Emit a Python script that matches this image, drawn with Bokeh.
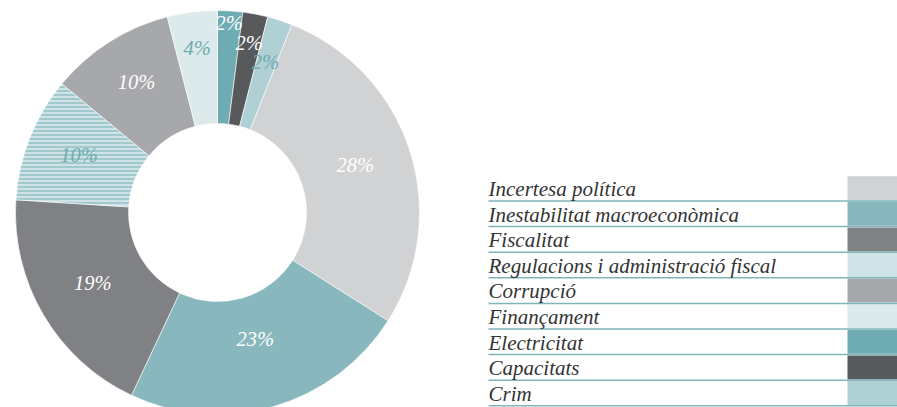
from bokeh.plotting import figure
from bokeh.models import Range1d, ColumnDataSource
from bokeh.core.properties import value
from bokeh.embed import file_html
from bokeh.resources import INLINE
import math

# ---- data ----
legend_labels = ["Incertesa política", "Inestabilitat macroeconòmica", "Fiscalitat",
                 "Regulacions i administració fiscal", "Corrupció", "Finançament",
                 "Electricitat", "Capacitats", "Crim"]
legend_colors = ["#D1D2D4", "#88B8BE", "#808184", "#CFE3E6", "#A7A8AB", "#DDEAEC",
                 "#6FABB2", "#58595B", "#AFD0D4"]

# clockwise from 12 o'clock
slice_names = ["Electricitat", "Capacitats", "Crim", "Incertesa política",
               "Inestabilitat macroeconòmica", "Fiscalitat",
               "Regulacions i administració fiscal", "Corrupció", "Finançament"]
slice_values = [2, 2, 2, 28, 23, 19, 10, 10, 4]
slice_labels = ["2%", "2%", "2%", "28%", "23%", "19%", "10%", "10%", "4%"]
label_colors = ["white", "white", "#6FABB2", "white", "white", "white", "#6FABB2", "white", "#6FABB2"]
label_radius = [187, 169, 155, 145, 135, 145, 149, 151, 163]

W, H = 897, 407
p = figure(width=W, height=H, output_backend="svg", toolbar_location=None,
           x_range=Range1d(0, W), y_range=Range1d(0, H), min_border=0)
p.axis.visible = False
p.grid.visible = False
p.outline_line_color = None

cx, cy = 217, H - 212
r_in, r_out = 89, 202
total = sum(slice_values)
cmap = dict(zip(legend_labels, legend_colors))

cum = 0.0
starts, ends, cols, lx, ly = [], [], [], [], []
for i, v in enumerate(slice_values):
    a0 = cum / total
    a1 = (cum + v) / total
    cum += v
    starts.append(math.pi / 2 - a1 * 2 * math.pi)
    ends.append(math.pi / 2 - a0 * 2 * math.pi)
    cols.append(cmap[slice_names[i]])
    mid = (a0 + a1) / 2
    ang = math.pi / 2 - mid * 2 * math.pi
    lx.append(cx + label_radius[i] * math.cos(ang))
    ly.append(cy + label_radius[i] * math.sin(ang) + 3)

src = ColumnDataSource(dict(s=starts, e=ends, c=cols,
                            h=["-" if n.startswith("Regulacions") else " " for n in slice_names]))
p.annular_wedge(x=cx, y=cy, inner_radius=r_in, outer_radius=r_out,
                start_angle="s", end_angle="e", fill_color="c", line_color="white",
                line_width=0.6, hatch_pattern="h", hatch_color="#7FB5BB",
                hatch_scale=4, hatch_weight=1.2, source=src)

p.text(x=lx, y=ly, text=slice_labels, text_color=label_colors,
       text_font=value("Liberation Serif"), text_font_style="italic",
       text_font_size="20.5px", text_align="center", text_baseline="middle")

# ---- legend ----
step = 25.6
first_line = H - 200.5
n = len(legend_labels)
line_y = [first_line - i * step for i in range(n)]
p.quad(left=[847] * n, right=[W + 10] * n,
       bottom=[y + 0.8 for y in line_y], top=[y + step - 0.8 for y in line_y],
       fill_color=legend_colors, line_color=None)
p.segment(x0=[488] * n, x1=[W] * n, y0=line_y, y1=line_y,
          line_color="#7FB5BB", line_width=1.5)
p.text(x=[488] * n, y=[y + 12 for y in line_y], text=legend_labels,
       text_color="#333333", text_font=value("Liberation Serif"),
       text_font_style="italic", text_font_size="21px",
       text_align="left", text_baseline="alphabetic")

open("out.html", "w").write(file_html(p, INLINE))
